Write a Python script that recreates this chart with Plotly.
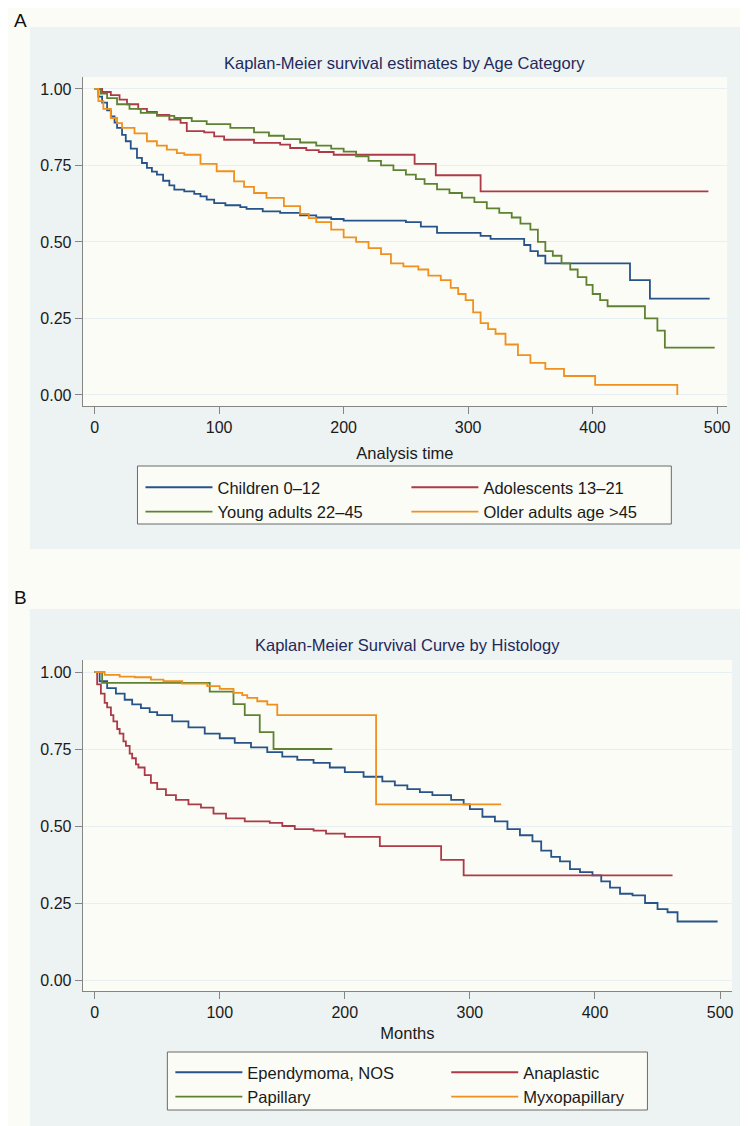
import plotly.graph_objects as go

# ---------------- Panel A: Kaplan-Meier by Age Category ----------------
age_names = ["Children 0–12", "Adolescents 13–21", "Young adults 22–45", "Older adults age >45"]

children_t = [0, 3, 6, 10, 13, 16, 18, 22, 25, 29, 34, 38, 42, 46, 50, 55, 60, 64, 72, 80, 85, 90, 96, 105, 117, 122, 135, 149, 165, 178, 190, 200, 250, 262, 275, 310, 318, 345, 350, 356, 362, 430, 446, 494]
children_s = [1.0, 0.975, 0.955, 0.93, 0.91, 0.89, 0.873, 0.85, 0.829, 0.805, 0.775, 0.758, 0.742, 0.73, 0.72, 0.7, 0.685, 0.671, 0.665, 0.657, 0.649, 0.638, 0.627, 0.62, 0.614, 0.608, 0.6, 0.595, 0.587, 0.58, 0.575, 0.57, 0.565, 0.55, 0.53, 0.52, 0.51, 0.49, 0.47, 0.455, 0.43, 0.375, 0.315, 0.315]

adol_t = [0, 6, 13, 20, 26, 35, 42, 50, 60, 69, 74, 88, 96, 104, 128, 149, 157, 170, 180, 192, 257, 274, 310, 493]
adol_s = [1.0, 0.99, 0.98, 0.965, 0.95, 0.935, 0.925, 0.915, 0.9, 0.889, 0.862, 0.858, 0.845, 0.834, 0.824, 0.818, 0.807, 0.8, 0.794, 0.785, 0.755, 0.718, 0.665, 0.665]

young_t = [0, 5, 10, 18, 28, 37, 50, 64, 78, 90, 109, 128, 140, 152, 165, 178, 190, 200, 210, 220, 230, 240, 250, 258, 265, 275, 285, 295, 305, 315, 325, 335, 342, 350, 356, 362, 368, 375, 382, 388, 395, 400, 406, 412, 442, 452, 458, 498]
young_s = [1.0, 0.985, 0.97, 0.95, 0.935, 0.922, 0.912, 0.905, 0.895, 0.885, 0.873, 0.858, 0.847, 0.836, 0.825, 0.815, 0.805, 0.795, 0.78, 0.765, 0.75, 0.735, 0.72, 0.705, 0.69, 0.672, 0.66, 0.645, 0.63, 0.61, 0.595, 0.58, 0.56, 0.54, 0.5, 0.47, 0.455, 0.43, 0.41, 0.385, 0.36, 0.33, 0.31, 0.29, 0.25, 0.21, 0.155, 0.155]

older_t = [0, 3, 7, 13, 18, 22, 32, 42, 50, 58, 66, 72, 85, 98, 112, 120, 128, 138, 152, 165, 172, 178, 190, 200, 210, 220, 230, 238, 248, 260, 268, 278, 286, 292, 298, 304, 310, 316, 322, 330, 340, 350, 362, 377, 402, 468]
older_s = [1.0, 0.96, 0.935, 0.905, 0.888, 0.873, 0.855, 0.829, 0.815, 0.802, 0.79, 0.785, 0.755, 0.731, 0.698, 0.68, 0.66, 0.644, 0.617, 0.592, 0.578, 0.565, 0.54, 0.515, 0.5, 0.48, 0.46, 0.43, 0.42, 0.41, 0.39, 0.375, 0.35, 0.33, 0.31, 0.27, 0.235, 0.215, 0.2, 0.165, 0.13, 0.105, 0.085, 0.062, 0.033, 0.0]

# ---------------- Panel B: Kaplan-Meier by Histology ----------------
hist_names = ["Ependymoma, NOS", "Anaplastic", "Papillary", "Myxopapillary"]

nos_t = [0, 4, 10, 17, 24, 30, 37, 44, 50, 62, 75, 88, 100, 112, 125, 138, 150, 162, 175, 188, 200, 215, 230, 240, 250, 260, 270, 285, 295, 300, 310, 320, 330, 340, 350, 357, 365, 372, 380, 388, 398, 405, 412, 420, 430, 440, 450, 458, 466, 498]
nos_s = [1.0, 0.97, 0.948, 0.93, 0.91, 0.895, 0.883, 0.87, 0.86, 0.84, 0.82, 0.8, 0.785, 0.77, 0.755, 0.74, 0.725, 0.715, 0.705, 0.69, 0.675, 0.66, 0.645, 0.632, 0.62, 0.61, 0.6, 0.585, 0.57, 0.555, 0.53, 0.515, 0.49, 0.47, 0.45, 0.42, 0.4, 0.385, 0.36, 0.35, 0.34, 0.32, 0.3, 0.28, 0.275, 0.25, 0.23, 0.22, 0.19, 0.19]

ana_t = [0, 2, 5, 8, 10, 13, 15, 18, 20, 23, 25, 28, 30, 33, 35, 40, 45, 50, 57, 65, 75, 85, 95, 105, 120, 140, 150, 160, 175, 185, 200, 228, 277, 295, 462]
ana_s = [1.0, 0.96, 0.93, 0.9, 0.885, 0.86, 0.84, 0.815, 0.8, 0.775, 0.76, 0.735, 0.72, 0.7, 0.69, 0.665, 0.64, 0.62, 0.6, 0.585, 0.57, 0.56, 0.54, 0.525, 0.515, 0.51, 0.5, 0.49, 0.485, 0.475, 0.465, 0.435, 0.39, 0.34, 0.34]

pap_t = [0, 6, 92, 111, 120, 132, 143, 190]
pap_s = [1.0, 0.965, 0.936, 0.896, 0.86, 0.805, 0.75, 0.75]

myxo_t = [0, 8, 20, 32, 45, 55, 70, 90, 100, 111, 118, 122, 130, 138, 146, 225, 325]
myxo_s = [1.0, 0.991, 0.985, 0.983, 0.975, 0.97, 0.962, 0.954, 0.945, 0.932, 0.925, 0.916, 0.905, 0.894, 0.86, 0.57, 0.57]

line_colors = ["#27538a", "#ad3a48", "#5f8232", "#f0901e"]

x_ticks = [0, 100, 200, 300, 400, 500]
y_ticks = [0, 0.25, 0.5, 0.75, 1.0]

W, H = 748, 1126
FONT = "Liberation Sans, Arial, Helvetica, sans-serif"
PANEL_BG = "#edf2f3"
PLOT_BG = "#fbfcf5"
PAGE_BG = "#fbfcf6"
AXIS_COL = "#858585"
GRID_COL = "#e8eff3"
SAMPLE_W = 67  # legend line sample length


def px_x(p):
    return p / W


def px_y(p):
    return 1 - p / H


fig = go.Figure()

panel_a = [(children_t, children_s), (adol_t, adol_s), (young_t, young_s), (older_t, older_s)]
panel_b = [(nos_t, nos_s), (ana_t, ana_s), (pap_t, pap_s), (myxo_t, myxo_s)]
# legend columns: first and third series in left column, second and fourth in right column
col_a = ["legend", "legend2", "legend", "legend2"]
col_b = ["legend3", "legend4", "legend3", "legend4"]

for (t, s), name, col, lg in zip(panel_a, age_names, line_colors, col_a):
    fig.add_trace(go.Scatter(x=t, y=s, mode="lines", name=name, line=dict(color=col, width=1.8, shape="hv"),
                             xaxis="x", yaxis="y", legend=lg))
for (t, s), name, col, lg in zip(panel_b, hist_names, line_colors, col_b):
    fig.add_trace(go.Scatter(x=t, y=s, mode="lines", name=name, line=dict(color=col, width=1.8, shape="hv"),
                             xaxis="x2", yaxis="y2", legend=lg))

shapes = []
for (x0, y0, x1, y1, c) in [(22, 19, 741, 541, PANEL_BG), (75, 69, 722, 398, PLOT_BG),
                            (22, 601, 742, 1126, PANEL_BG), (75, 652, 727, 983, PLOT_BG)]:
    shapes.append(dict(type="rect", xref="paper", yref="paper", x0=px_x(x0), x1=px_x(x1),
                       y0=px_y(y1), y1=px_y(y0), fillcolor=c, line=dict(width=0), layer="below"))
# legend frames
for (x0, y0, x1, y1) in [(130, 458, 666, 516), (160, 1044, 642, 1102)]:
    shapes.append(dict(type="rect", xref="paper", yref="paper", x0=px_x(x0), x1=px_x(x1),
                       y0=px_y(y1), y1=px_y(y0), fillcolor=PLOT_BG,
                       line=dict(width=1, color="#6a6a6a"), layer="below"))

axis_common = dict(showline=True, linecolor=AXIS_COL, linewidth=1, ticks="outside", ticklen=7,
                   tickcolor=AXIS_COL, tickwidth=1, zeroline=False,
                   tickfont=dict(family=FONT, size=16, color="#1a1a1a"))

legend_common = dict(orientation="v", xanchor="left", yanchor="top", itemwidth=SAMPLE_W,
                     bgcolor="rgba(0,0,0,0)", borderwidth=0,
                     font=dict(family=FONT, size=16.5, color="#1a1a1a"), traceorder="normal")

fig.update_layout(
    width=W, height=H, margin=dict(l=0, r=0, t=0, b=0),
    paper_bgcolor=PAGE_BG, plot_bgcolor=PLOT_BG,
    font=dict(family=FONT, color="#1a1a1a"),
    shapes=shapes,
    xaxis=dict(domain=[px_x(75), px_x(722)], range=[-9.6, 508], anchor="y", tickvals=x_ticks,
               showgrid=False, title=dict(text="Analysis time", font=dict(size=16.5), standoff=12), **axis_common),
    yaxis=dict(domain=[px_y(398), px_y(69)], range=[-0.036, 1.039], anchor="x", tickvals=y_ticks,
               tickformat=".2f", showgrid=True, gridcolor=GRID_COL, gridwidth=1, **axis_common),
    xaxis2=dict(domain=[px_x(75), px_x(727)], range=[-9.55, 509.6], anchor="y2", tickvals=x_ticks,
                showgrid=False, title=dict(text="Months", font=dict(size=16.5), standoff=7), **axis_common),
    yaxis2=dict(domain=[px_y(983), px_y(652)], range=[-0.0357, 1.039], anchor="x2", tickvals=y_ticks,
                tickformat=".2f", showgrid=True, gridcolor=GRID_COL, gridwidth=1, **axis_common),
    legend=dict(x=px_x(133), y=px_y(462), **legend_common),
    legend2=dict(x=px_x(400), y=px_y(462), **legend_common),
    legend3=dict(x=px_x(163), y=px_y(1047), **legend_common),
    legend4=dict(x=px_x(440), y=px_y(1047), **legend_common),
    annotations=[
        dict(text="A", x=px_x(4), y=px_y(12), xref="paper", yref="paper", xanchor="left", yanchor="middle",
             showarrow=False, font=dict(family=FONT, size=19, color="#111")),
        dict(text="B", x=px_x(4), y=px_y(589), xref="paper", yref="paper", xanchor="left", yanchor="middle",
             showarrow=False, font=dict(family=FONT, size=19, color="#111")),
        dict(text="Kaplan-Meier survival estimates by Age Category", x=px_x(398.5), y=px_y(55),
             xref="paper", yref="paper", xanchor="center", yanchor="middle", showarrow=False,
             font=dict(family=FONT, size=16.5, color="#1f2a5a")),
        dict(text="Kaplan-Meier Survival Curve by Histology", x=px_x(401), y=px_y(637),
             xref="paper", yref="paper", xanchor="center", yanchor="middle", showarrow=False,
             font=dict(family=FONT, size=16.5, color="#1f2a5a")),
    ],
)

fig.write_html("out.html")
